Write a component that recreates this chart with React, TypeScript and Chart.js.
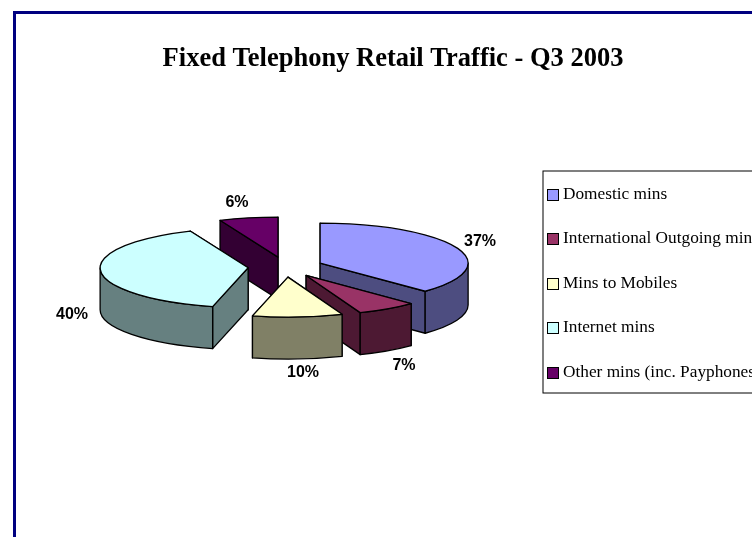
import React, { useEffect, useRef } from "react";
import { Chart, registerables } from "chart.js";

Chart.register(...registerables);

const TITLE = "Fixed Telephony Retail Traffic - Q3 2003";
const categories = [
  "Domestic mins",
  "International Outgoing mins",
  "Mins to Mobiles",
  "Internet mins",
  "Other mins (inc. Payphones)",
];
const trafficShare = [37.4, 6.6, 9.8, 39.7, 6.4];
const topColors = ["#9999FF", "#993366", "#FFFFCC", "#CCFFFF", "#660066"];
const wallColors = ["#4D4D80", "#4D1933", "#808066", "#668080", "#330033"];
const drawOrder = [4, 0, 3, 1, 2];
const labelPositions = [
  [480, 242],
  [404, 366],
  [303, 373],
  [72, 315],
  [237, 203],
];

const PIE = { x: 285.5, y: 267, radius: 148, squash: 0.27, depth: 42, offset: 75 };
const LEGEND = { left: 543, top: 171, bottom: 393, firstY: 194, step: 44.5, swatch: 11 };
const SERIF = "'Liberation Serif', serif";
const SANS = "'Liberation Sans', Arial, sans-serif";

const pie3d = {
  id: "pie3d",
  beforeDraw(chart: any) {
    const { ctx, width, height } = chart;
    ctx.save();
    ctx.fillStyle = "#FFFFFF";
    ctx.fillRect(0, 0, width, height);
    ctx.fillStyle = "#000080";
    ctx.fillRect(13, 11, width - 13, 3);
    ctx.fillRect(13, 11, 3, height - 11);
    ctx.restore();
  },
  beforeDatasetsDraw(chart: any) {
    const { ctx } = chart;
    const meta = chart.getDatasetMeta(0);
    const ry = PIE.radius * PIE.squash;
    ctx.save();
    ctx.lineWidth = 1.3;
    ctx.strokeStyle = "#000000";
    ctx.lineJoin = "round";
    for (const i of drawOrder) {
      const arc = meta.data[i];
      const { startAngle, endAngle, outerRadius } = arc.getProps(["startAngle", "endAngle", "outerRadius"]);
      const mid = (startAngle + endAngle) / 2;
      const shift = (arc.options.offset || 0) / 2;
      const cx = PIE.x + Math.cos(mid) * shift;
      const cy = PIE.y + Math.sin(mid) * shift * PIE.squash;
      const rx = outerRadius;
      const edge = (a: number) => [cx + Math.cos(a) * rx, cy + Math.sin(a) * ry];
      ctx.fillStyle = wallColors[i];
      // radial walls, the farther one first
      const radials = [startAngle, endAngle].sort((a, b) => edge(a)[1] - edge(b)[1]);
      for (const a of radials) {
        const [ex, ey] = edge(a);
        ctx.beginPath();
        ctx.moveTo(cx, cy);
        ctx.lineTo(ex, ey);
        ctx.lineTo(ex, ey + PIE.depth);
        ctx.lineTo(cx, cy + PIE.depth);
        ctx.closePath();
        ctx.fill();
        ctx.stroke();
      }
      // outer wall, front half of the ellipse only
      const a0 = Math.max(startAngle, 0);
      const a1 = Math.min(endAngle, Math.PI);
      if (a1 > a0) {
        ctx.beginPath();
        ctx.ellipse(cx, cy, rx, ry, 0, a0, a1);
        ctx.ellipse(cx, cy + PIE.depth, rx, ry, 0, a1, a0, true);
        ctx.closePath();
        ctx.fill();
        ctx.stroke();
      }
      // top face
      ctx.fillStyle = topColors[i];
      ctx.beginPath();
      ctx.moveTo(cx, cy);
      ctx.ellipse(cx, cy, rx, ry, 0, startAngle, endAngle);
      ctx.closePath();
      ctx.fill();
      ctx.stroke();
    }
    ctx.restore();
    return false;
  },
  afterDraw(chart: any) {
    const { ctx, data } = chart;
    const values: number[] = data.datasets[0].data;
    const total = values.reduce((s, v) => s + v, 0);
    ctx.save();
    ctx.fillStyle = "#000000";
    ctx.font = `bold 16px ${SANS}`;
    ctx.textAlign = "center";
    ctx.textBaseline = "middle";
    values.forEach((v, i) => {
      ctx.fillText(`${Math.round((v / total) * 100)}%`, labelPositions[i][0], labelPositions[i][1]);
    });
    // legend box (runs off the right edge, as in the source)
    ctx.strokeStyle = "#000000";
    ctx.lineWidth = 1;
    ctx.strokeRect(LEGEND.left, LEGEND.top, 300, LEGEND.bottom - LEGEND.top);
    ctx.font = `17.3px ${SERIF}`;
    ctx.textAlign = "left";
    (data.labels as string[]).forEach((label, i) => {
      const y = LEGEND.firstY + i * LEGEND.step;
      const s = LEGEND.swatch;
      ctx.fillStyle = topColors[i];
      ctx.fillRect(547.5, Math.round(y - s / 2) + 0.5, s, s);
      ctx.strokeRect(547.5, Math.round(y - s / 2) + 0.5, s, s);
      ctx.fillStyle = "#000000";
      ctx.fillText(label, 563, y);
    });
    ctx.restore();
  },
};

export default function App() {
  const ref = useRef<HTMLCanvasElement | null>(null);
  useEffect(() => {
    const chart = new Chart(ref.current as HTMLCanvasElement, {
      type: "pie",
      data: {
        labels: categories,
        datasets: [
          {
            data: trafficShare,
            backgroundColor: topColors,
            borderColor: "#000000",
            borderWidth: 1,
            offset: PIE.offset,
            radius: PIE.radius,
          } as any,
        ],
      },
      options: {
        animation: false,
        responsive: false,
        layout: { padding: { left: 34, top: 43 } },
        plugins: {
          legend: { display: false },
          tooltip: { enabled: false },
          title: {
            display: true,
            text: TITLE,
            color: "#000000",
            font: { family: SERIF, size: 26.5, weight: "bold" },
            padding: 0,
          },
        },
      },
      plugins: [pie3d],
    });
    return () => chart.destroy();
  }, []);
  return (
    <canvas
      ref={ref}
      width={752}
      height={537}
      style={{ position: "fixed", left: 0, top: 0, width: 752, height: 537, display: "block" }}
    />
  );
}
